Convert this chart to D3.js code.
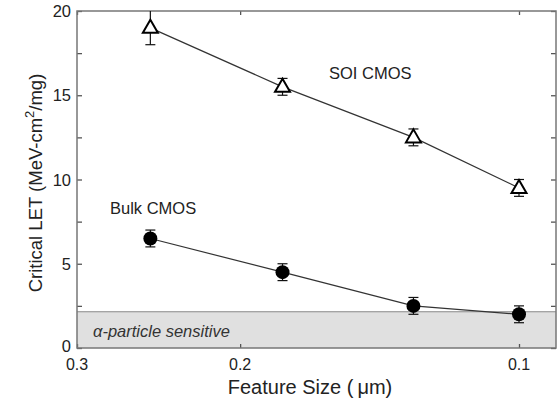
<!DOCTYPE html>
<html><head><meta charset="utf-8">
<script src="https://cdn.jsdelivr.net/npm/d3@7"></script>
<style>body{margin:0;background:#fff}</style>
</head><body>
<svg id="c" width="558" height="405"></svg>
<script>
const featureSize = [0.25, 0.18, 0.13, 0.10];
const soiLET = [19.0, 15.5, 12.5, 9.5];
const soiErr = [1.0, 0.5, 0.5, 0.5];
const bulkLET = [6.5, 4.5, 2.5, 2.0];
const bulkErr = [0.5, 0.5, 0.5, 0.5];
const xTicks = [0.3, 0.2, 0.1];
const yTicks = [0, 5, 10, 15, 20];
const yMinorTicks = [0, 2.5, 5, 7.5, 10, 12.5, 15, 17.5, 20];
const alphaThreshold = 2.15;

const svg = d3.select("#c");
const L = 77, R = 556, T = 11, B = 348;
const x = d3.scaleLog().domain([0.3, 0.1]).range([L, R - 37]);
const xr = d3.scaleLog().domain([0.3, x.invert(R)]).range([L, R]);
const y = d3.scaleLinear().domain([0, 20]).range([B, T]);
const font = "Arial, 'Liberation Sans', sans-serif";

// alpha band
svg.append("rect").attr("x", L).attr("y", y(alphaThreshold)).attr("width", R - L)
  .attr("height", y(0) - y(alphaThreshold)).attr("fill", "#e0e0e0");
svg.append("line").attr("x1", L).attr("x2", R).attr("y1", y(alphaThreshold)).attr("y2", y(alphaThreshold))
  .attr("stroke", "#888").attr("stroke-width", 1.2);
svg.append("text").attr("x", 93).attr("y", 337).attr("font-family", font).attr("font-size", 16.5)
  .attr("font-style", "italic").attr("fill", "#333")
  .text("α-particle sensitive");

// axes (ticks inward)
const ax = svg.append("g");
ax.append("g").attr("transform", `translate(0,${B})`).call(d3.axisTop(xr).tickValues(xTicks).tickSize(4).tickFormat(""));
ax.append("g").attr("transform", `translate(0,${T})`).call(d3.axisBottom(xr).tickValues(xTicks).tickSize(4).tickFormat(""));
ax.append("g").attr("transform", `translate(${L},0)`).call(d3.axisRight(y).tickValues(yMinorTicks).tickSize(5).tickFormat(""));
ax.append("g").attr("transform", `translate(${R},0)`).call(d3.axisLeft(y).tickValues(yMinorTicks).tickSize(5).tickFormat(""));
ax.selectAll(".domain").remove();
ax.selectAll("line").attr("stroke", "#555").attr("stroke-width", 1.3);
svg.append("rect").attr("x", L).attr("y", T).attr("width", R - L).attr("height", B - T)
  .attr("fill", "none").attr("stroke", "#777").attr("stroke-width", 1.5);

// tick labels
svg.append("g").selectAll("text").data(xTicks).join("text")
  .attr("x", d => xr(d)).attr("y", 370).attr("text-anchor", "middle")
  .attr("font-family", font).attr("font-size", 16).attr("fill", "#222").text(d => d.toFixed(1));
svg.append("g").selectAll("text").data(yTicks).join("text")
  .attr("x", 71).attr("y", d => y(d) + (d === 0 ? 4 : 6)).attr("text-anchor", "end")
  .attr("font-family", font).attr("font-size", 16.5).attr("fill", "#222").text(d => d);

// axis titles
const xl = svg.append("text").attr("x", 310).attr("y", 394).attr("text-anchor", "middle")
  .attr("font-family", font).attr("font-size", 20).attr("fill", "#222");
xl.append("tspan").text("Feature Size (");
xl.append("tspan").attr("dx", 4).text("μm)");
const yl = svg.append("text").attr("transform", "translate(42,183) rotate(-90)").attr("text-anchor", "middle")
  .attr("font-family", font).attr("font-size", 18.5).attr("fill", "#222");
yl.append("tspan").text("Critical LET (MeV-cm");
yl.append("tspan").attr("dy", -8).attr("font-size", 13).text("2");
yl.append("tspan").attr("dy", 8).text("/mg)");

// series
function series(vals, errs, kind) {
  const pts = featureSize.map((f, i) => ({f, v: vals[i], e: errs[i]}));
  const line = d3.line().x(d => xr(d.f)).y(d => y(d.v));
  svg.append("path").datum(pts).attr("d", line).attr("fill", "none").attr("stroke", "#333").attr("stroke-width", 1.2);
  const g = svg.append("g");
  pts.forEach(d => {
    const cx = xr(d.f), y1 = y(Math.min(20, d.v + d.e)), y2 = y(d.v - d.e);
    g.append("line").attr("x1", cx).attr("x2", cx).attr("y1", y1).attr("y2", y2).attr("stroke", "#111").attr("stroke-width", 1.2);
    if (d.v + d.e < 20) g.append("line").attr("x1", cx - 5).attr("x2", cx + 5).attr("y1", y1).attr("y2", y1).attr("stroke", "#111").attr("stroke-width", 1.2);
    g.append("line").attr("x1", cx - 5).attr("x2", cx + 5).attr("y1", y2).attr("y2", y2).attr("stroke", "#111").attr("stroke-width", 1.2);
    if (kind === "tri") {
      const cy = y(d.v);
      g.append("path").attr("d", `M${cx},${cy - 8}L${cx + 7.5},${cy + 5}L${cx - 7.5},${cy + 5}Z`)
        .attr("fill", "#fff").attr("stroke", "#000").attr("stroke-width", 2);
    } else {
      g.append("circle").attr("cx", cx).attr("cy", y(d.v)).attr("r", 7).attr("fill", "#000");
    }
  });
}
series(soiLET, soiErr, "tri");
series(bulkLET, bulkErr, "dot");

svg.append("text").attr("x", 329).attr("y", 79).attr("font-family", font).attr("font-size", 16.5).attr("fill", "#222").text("SOI CMOS");
svg.append("text").attr("x", 110).attr("y", 214).attr("font-family", font).attr("font-size", 16.5).attr("fill", "#222").text("Bulk CMOS");
</script>
</body></html>
